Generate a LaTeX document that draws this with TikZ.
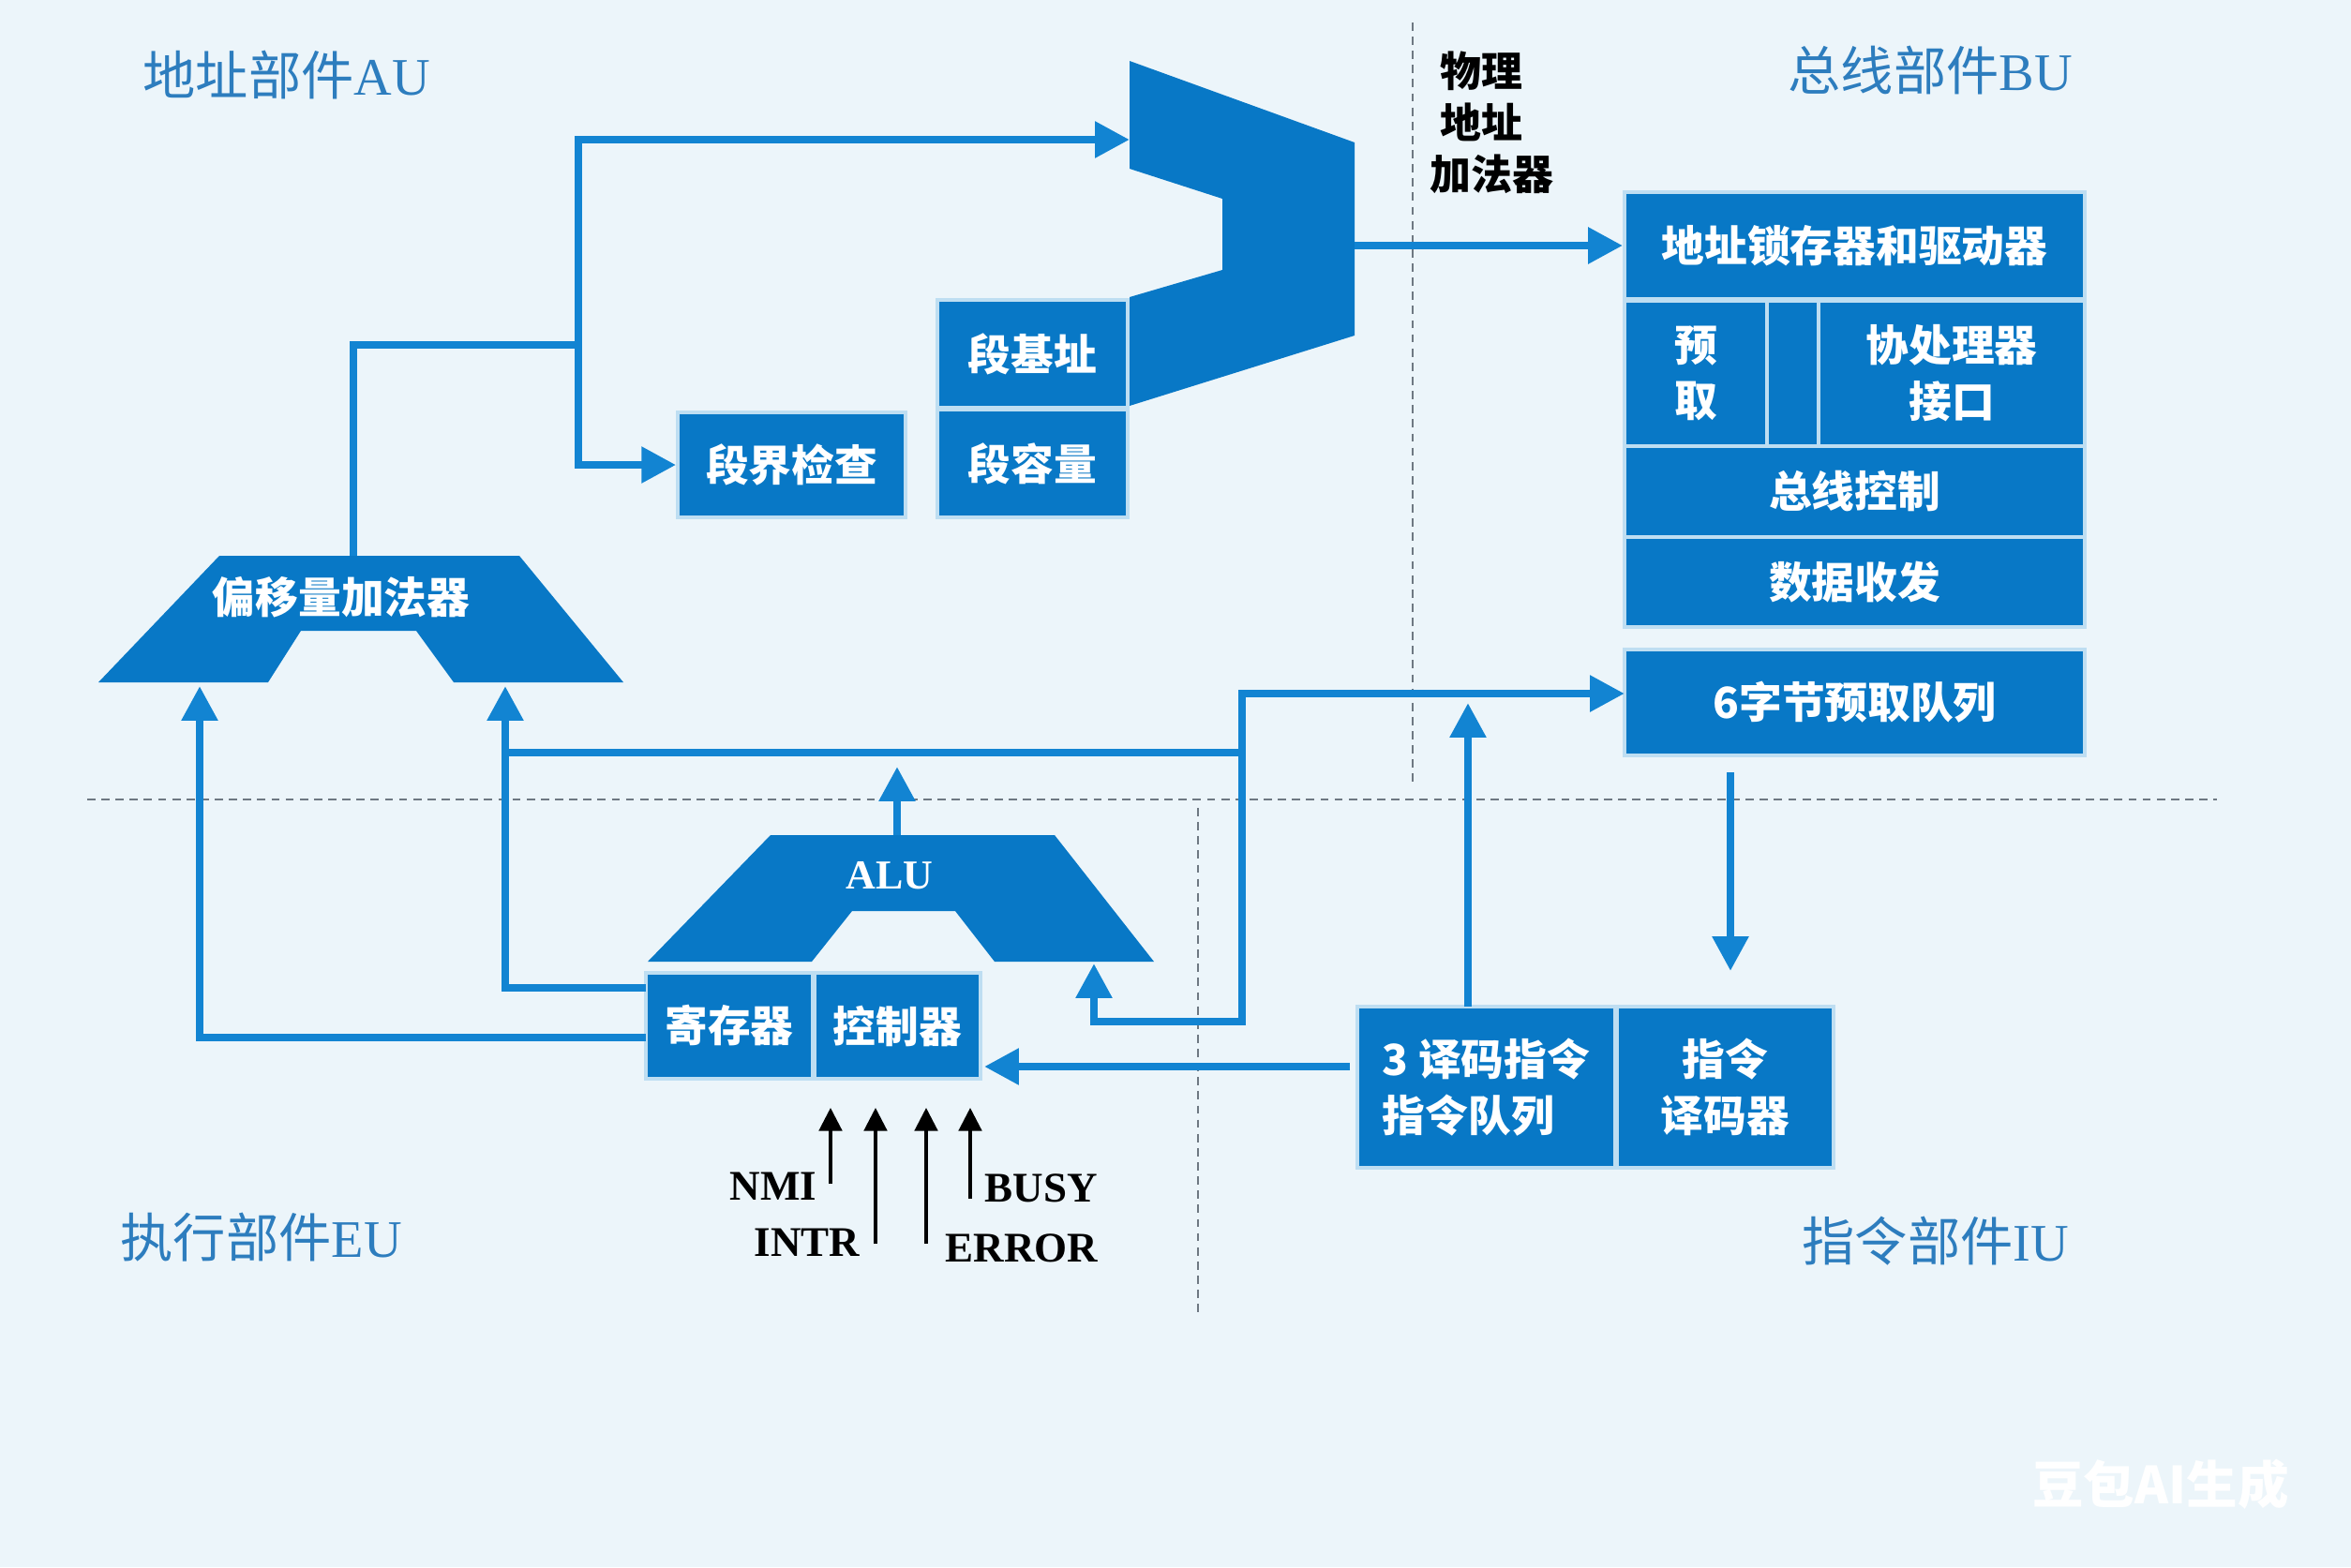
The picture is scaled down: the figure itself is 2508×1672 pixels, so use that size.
\documentclass[tikz,border=0pt]{standalone}
\usepackage{fontspec}
\setmainfont{Liberation Serif}
\newfontfamily\cjk{Noto Sans CJK SC}
\usetikzlibrary{arrows.meta}

\definecolor{bgblue}{RGB}{236,245,250}
\definecolor{boxblue}{RGB}{8,120,198}
\definecolor{gapblue}{RGB}{190,222,242}
\definecolor{linkblue}{RGB}{18,132,210}
\definecolor{dashgray}{RGB}{110,120,130}
\definecolor{titleblue}{RGB}{45,125,190}

\begin{document}
\begin{tikzpicture}[
    x=0.01cm, y=-0.01cm,
    blocktext/.style={text=white, inner sep=0pt, align=center, font=\cjk\bfseries\fontsize{13}{17}\selectfont},
    unit/.style={blocktext, rectangle, fill=boxblue, draw=gapblue, line width=1pt},
    adder/.style={fill=boxblue},
    bus/.style={draw=linkblue, line width=2.5pt},
    flow/.style={bus, -{Triangle[length=10.5pt, width=10.5pt]}},
    sig/.style={black, line width=0.9pt, -{Triangle[length=7pt, width=7pt]}},
    divider/.style={draw=dashgray, line width=0.6pt, dash pattern=on 2.5pt off 1.8pt},
    unittitle/.style={text=titleblue, anchor=west, inner sep=0pt, font=\fontsize{16}{19}\selectfont},
    signame/.style={inner sep=0pt, font=\bfseries\fontsize{12.8}{16}\selectfont}
]

% background and frame
\fill[bgblue] (0,0) rectangle (2508,1672);
\useasboundingbox (0,0) rectangle (2508,1672);

% unit borders
\draw[divider] (93,853) -- (2365,853);
\draw[divider] (1507,24) -- (1507,840);
\draw[divider] (1278,862) -- (1278,1400);

% unit titles
\node[unittitle] (autitle) at (152,80) {{\cjk 地址部件}AU};
\node[unittitle] (butitle) at (1907,75) {{\cjk 总线部件}BU};
\node[unittitle] (eutitle) at (128,1320) {{\cjk 执行部件}EU};
\node[unittitle] (iutitle) at (1922,1324) {{\cjk 指令部件}IU};

% address unit
\fill[adder] (1205,65) -- (1445,152) -- (1445,358) -- (1205,433) -- (1205,317)
    -- (1304,288) -- (1304,212) -- (1205,180) -- cycle;
\node[anchor=west, inner sep=0pt, align=left, font=\cjk\bfseries\fontsize{12.5}{15.6}\selectfont] (phylabel) at (1525,131)
    {\hspace*{3pt}物理\\\hspace*{3pt}地址\\加法器};
\node[unit, minimum width=2.43cm, minimum height=1.12cm] (seglimit) at (844.5,496) {段界检查};
\node[unit, minimum width=2.03cm, minimum height=1.15cm] (segbase) at (1101.5,377.5) {段基址};
\node[unit, minimum width=2.03cm, minimum height=1.15cm] (segcap) at (1101.5,494.5) {段容量};
\fill[adder] (234,593) -- (554,593) -- (665,728) -- (484,728) -- (444,673)
    -- (321,673) -- (286,728) -- (105,728) -- cycle;
\node[blocktext] (offadd) at (364,637) {偏移量加法器};

% bus unit
\node[unit, minimum width=4.91cm, minimum height=1.14cm] (latch) at (1978.5,262) {地址锁存器和驱动器};
\node[unit, minimum width=1.52cm, minimum height=1.55cm] (prefetch) at (1809,398.5) {预\\取};
\node[unit, minimum width=0.55cm, minimum height=1.55cm] (spare) at (1912.5,398.5) {};
\node[unit, minimum width=2.84cm, minimum height=1.55cm] (coproc) at (2082,398.5) {协处理器\\接口};
\node[unit, minimum width=4.91cm, minimum height=0.97cm] (busctl) at (1978.5,524.5) {总线控制};
\node[unit, minimum width=4.91cm, minimum height=0.96cm] (datatx) at (1978.5,621) {数据收发};
\node[unit, minimum width=4.91cm, minimum height=1.13cm] (queue) at (1978.5,749.5) {6字节预取队列};

% execution unit
\fill[adder] (822,891) -- (1125,891) -- (1231,1026) -- (1061,1026) -- (1019,972)
    -- (909,972) -- (866,1026) -- (691,1026) -- cycle;
\node[text=white, font=\bfseries\fontsize{12.5}{15}\selectfont] (alu) at (949,934) {ALU};
\node[unit, minimum width=1.78cm, minimum height=1.13cm] (reg) at (778,1094.5) {寄存器};
\node[unit, minimum width=1.77cm, minimum height=1.13cm] (ctrl) at (957.5,1094.5) {控制器};

% instruction unit
\node[unit, minimum width=2.75cm, minimum height=1.72cm, align=left] (decq) at (1585.5,1160) {3 译码指令\\指令队列};
\node[unit, minimum width=2.31cm, minimum height=1.72cm] (decoder) at (1840.5,1160) {指令\\译码器};

% connection points
\coordinate (offout) at (377,593);
\coordinate (split) at (617,368);
\coordinate (phyin) at (1205,149);
\coordinate (phyout) at (1445,262);
\coordinate (offinL) at (213,732);
\coordinate (offinR) at (539,732);
\coordinate (regA) at (689,1107);
\coordinate (regB) at (689,1054);
\coordinate (aluout) at (957,891);
\coordinate (alutip) at (957,818);
\coordinate (busL) at (539,803);
\coordinate (busR) at (1325,803);
\coordinate (q6in) at (1733,740);
\coordinate (aluret) at (1325,1090);
\coordinate (aluin) at (1167,1028);
\coordinate (q6out) at (1846,824);
\coordinate (decin) at (1846,1036);
\coordinate (decqup) at (1566,1074);
\coordinate (qtip) at (1566,750);
\coordinate (decqleft) at (1440,1138);
\coordinate (ctrlin) at (1050,1138);

% connections
\draw[flow] (offout) |- (split) |- (phyin);
\draw[flow] (split) |- (seglimit.west);
\draw[flow] (phyout) -- (phyout -| latch.west);
\draw[flow] (regA) -| (offinL);
\draw[flow] (regB) -| (offinR);
\draw[flow] (aluout) -- (alutip);
\draw[bus] (busL) -- (busR);
\draw[flow] (busR) |- (q6in);
\draw[flow] (busR) -- (aluret) -| (aluin);
\draw[flow] (q6out) -- (decin);
\draw[flow] (decqup) -- (qtip);
\draw[flow] (decqleft) -- (ctrlin);

% control signals
\foreach \x/\yb/\n in {886/1263/nmi, 934/1327/intr, 988/1327/err, 1035/1279/busyin} {
    \coordinate (\n-tail) at (\x,\yb);
    \coordinate (\n-head) at (\x,1182);
    \draw[sig] (\n-tail) -- (\n-head);
}
\node[signame, anchor=east] (nmi) at (872,1266) {NMI};
\node[signame, anchor=east] (intr) at (918,1326) {INTR};
\node[signame, anchor=west] (busy) at (1050,1268) {BUSY};
\node[signame, anchor=west] (error) at (1008,1332) {ERROR};

% watermark
\node[text=white, font=\cjk\bfseries\fontsize{15.5}{18}\selectfont] (mark) at (2305,1584) {豆包AI生成};

\end{tikzpicture}
\end{document}
